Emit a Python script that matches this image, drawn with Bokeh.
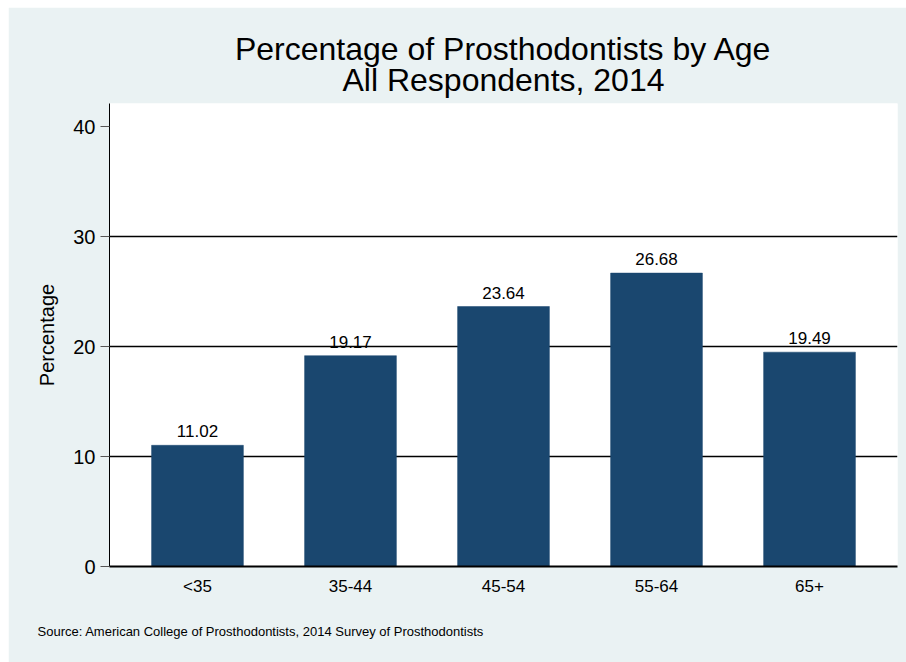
from bokeh.plotting import figure
from bokeh.models import ColumnDataSource, FactorRange, Range1d, FixedTicker, Title
from bokeh.core.properties import value
from bokeh.embed import file_html
from bokeh.resources import INLINE

# ---- data ----
age_groups = ["<35", "35-44", "45-54", "55-64", "65+"]
percentages = [11.02, 19.17, 23.64, 26.68, 19.49]
y_ticks = [0, 10, 20, 30, 40]
grid_ticks = [10, 20, 30]

title_line1 = "Percentage of Prosthodontists by Age"
title_line2 = "All Respondents, 2014"
source_text = "Source: American College of Prosthodontists, 2014 Survey of Prosthodontists"

FONT = "Liberation Sans"
BG = "#EAF2F3"
BAR = "#1A476F"

src = ColumnDataSource(dict(
    cat=age_groups,
    pct=percentages,
    lbl=["%.2f" % v for v in percentages],
))

p = figure(
    width=898, height=655,
    x_range=FactorRange(factors=age_groups, range_padding=0.03),
    y_range=Range1d(0, 42.1),
    title=None,
    output_backend="svg", toolbar_location=None,
    min_border_left=101, min_border_right=9,
    min_border_top=96, min_border_bottom=96,
)
p.margin = (7, 0, 0, 8)
p.background_fill_color = "white"
p.border_fill_color = BG
p.outline_line_color = None

p.vbar(x="cat", top="pct", width=0.6, source=src,
       fill_color=BAR, line_color=BAR, line_width=0.5)

p.text(x="cat", y="pct", text="lbl", source=src,
       text_font=value(FONT), text_font_size="17px",
       text_align="center", text_baseline="bottom",
       y_offset=-8, text_color="black")

# title: two lines, the second one nearest the frame
for txt, so in ((title_line2, 12), (title_line1, -27)):
    p.add_layout(Title(text=txt, align="center", text_font=FONT,
                       text_font_size="32px", text_font_style="normal",
                       text_color="black", standoff=so), "above")

# source note
note = Title(text=source_text, align="left", offset=-72,
             text_font=FONT, text_font_size="13px",
             text_font_style="normal", text_color="black", standoff=47)
p.add_layout(note, "below")

# y axis
yax = p.yaxis[0]
yax.ticker = FixedTicker(ticks=y_ticks)
yax.axis_label = "Percentage"
yax.axis_label_text_font = FONT
yax.axis_label_text_font_size = "20px"
yax.axis_label_text_font_style = "normal"
yax.axis_label_text_color = "black"
yax.axis_label_standoff = 12
yax.major_label_text_font = FONT
yax.major_label_text_font_size = "20px"
yax.major_label_text_color = "black"
yax.major_label_standoff = 5
yax.major_tick_out = 9
yax.major_tick_in = 0
yax.major_tick_line_color = "#555555"
yax.minor_tick_line_color = None
yax.axis_line_color = "black"
yax.axis_line_width = 1

# x axis
xax = p.xaxis[0]
xax.major_label_text_font = FONT
xax.major_label_text_font_size = "17px"
xax.major_label_text_color = "black"
xax.major_label_standoff = 10
xax.major_tick_line_color = None
xax.major_tick_out = 0
xax.major_tick_in = 0
xax.axis_line_color = "black"
xax.axis_line_width = 2

# grid
p.xgrid.grid_line_color = None
p.ygrid.ticker = FixedTicker(ticks=grid_ticks)
p.ygrid.grid_line_color = "black"
p.ygrid.grid_line_width = 1.6

open("out.html", "w").write(file_html(p, INLINE))
